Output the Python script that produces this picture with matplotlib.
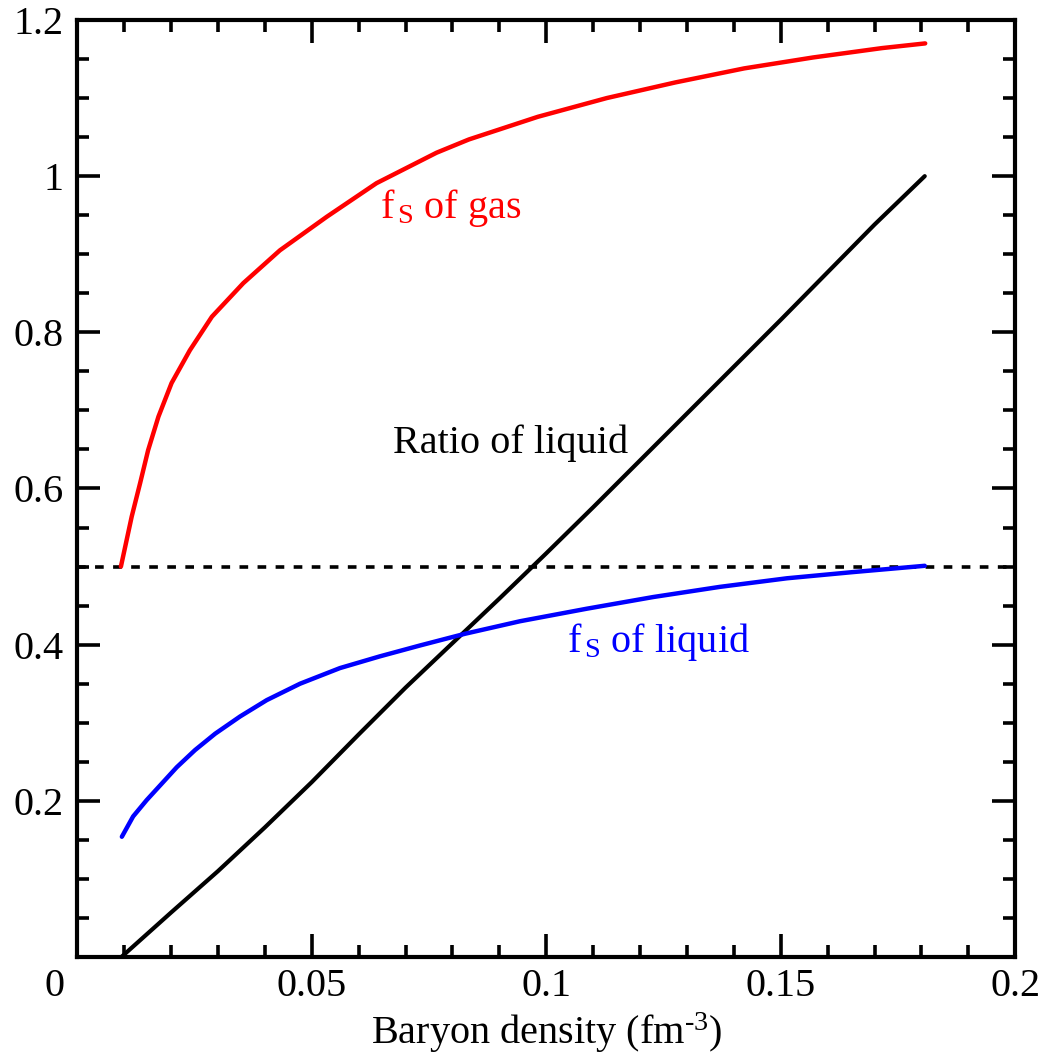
import matplotlib
matplotlib.use('Agg')
import matplotlib.pyplot as plt
import matplotlib.transforms as mtransforms
import numpy as np

plt.rcParams['font.family'] = ['Liberation Serif', 'DejaVu Serif']
plt.rcParams['mathtext.fontset'] = 'custom'
plt.rcParams['mathtext.rm'] = 'Liberation Serif'
plt.rcParams['mathtext.it'] = 'Liberation Serif:italic'

# f_S of gas (red)
gas_x = [0.0093, 0.0116, 0.0134, 0.0151, 0.0173, 0.0201, 0.0240, 0.0287, 0.0354,
         0.0432, 0.0532, 0.0638, 0.0766, 0.0835, 0.0982, 0.1129, 0.1275, 0.1422,
         0.1569, 0.1716, 0.1808]
gas_y = [0.500, 0.564, 0.607, 0.649, 0.692, 0.735, 0.777, 0.820, 0.863,
         0.905, 0.948, 0.991, 1.030, 1.047, 1.076, 1.100, 1.120, 1.138,
         1.152, 1.164, 1.170]

# f_S of liquid (blue)
liq_x = [0.0095, 0.0119, 0.0148, 0.0180, 0.0212, 0.0251, 0.0294, 0.0347, 0.0404,
         0.0475, 0.0560, 0.0645, 0.0731, 0.0827, 0.0944, 0.1086, 0.1228, 0.1370,
         0.1513, 0.1655, 0.1807]
liq_y = [0.154, 0.180, 0.201, 0.222, 0.243, 0.265, 0.286, 0.308, 0.329,
         0.350, 0.370, 0.385, 0.399, 0.414, 0.430, 0.446, 0.461, 0.474,
         0.485, 0.493, 0.501]

# ratio of liquid (black)
ratio_x = [0.0094, 0.02, 0.03, 0.04, 0.05, 0.06, 0.07, 0.08, 0.09, 0.10,
           0.11, 0.12, 0.13, 0.14, 0.15, 0.16, 0.17, 0.1807]
ratio_y = [0.0, 0.057, 0.110, 0.166, 0.224, 0.285, 0.345, 0.402, 0.459, 0.517,
           0.576, 0.636, 0.696, 0.756, 0.816, 0.877, 0.938, 1.0]

half_line = 0.5

xticks = [0, 0.05, 0.1, 0.15, 0.2]
xtick_labels = ['0', '0.05', '0.1', '0.15', '0.2']
yticks = [0, 0.2, 0.4, 0.6, 0.8, 1.0, 1.2]
ytick_labels = ['', '0.2', '0.4', '0.6', '0.8', '1', '1.2']

fs = 29

fig = plt.figure(figsize=(10.46, 10.57), dpi=100)
ax = fig.add_axes([0.0739, 0.0946, 0.8967, 0.8865])

ax.axhline(half_line, color='black', lw=2.6, ls=(0, (2.4, 2.6)))
ax.plot(ratio_x, ratio_y, color='black', lw=3.0, solid_capstyle='round',
        solid_joinstyle='round')
ax.plot(gas_x, gas_y, color='#ff0000', lw=3.2, solid_capstyle='round',
        solid_joinstyle='round')
ax.plot(liq_x, liq_y, color='#0000ff', lw=3.2, solid_capstyle='round',
        solid_joinstyle='round')

ax.text(0.0645, 0.946, r'f$_{\,\mathrm{S}}$ of gas', color='#ff0000', fontsize=fs,
        va='baseline', ha='left')
ax.text(0.0673, 0.645, 'Ratio of liquid', color='black', fontsize=fs,
        va='baseline', ha='left')
ax.text(0.1044, 0.390, r'f$_{\,\mathrm{S}}$ of liquid', color='#0000ff', fontsize=fs,
        va='baseline', ha='left')

ax.set_xlim(0, 0.2)
ax.set_ylim(0, 1.2)
ax.set_xticks(xticks)
ax.set_xticklabels(xtick_labels)
ax.set_yticks(yticks)
ax.set_yticklabels(ytick_labels)
ax.set_xticks(np.arange(0, 0.2001, 0.01), minor=True)
ax.set_yticks(np.arange(0, 1.2001, 0.05), minor=True)

ax.tick_params(which='both', direction='in', top=True, right=True, width=2.6,
               labelsize=fs, colors='black')
ax.tick_params(which='major', length=16.5)
ax.tick_params(which='minor', length=8.6)
ax.tick_params(axis='x', which='major', pad=8)
ax.tick_params(axis='y', which='major', pad=10)

for sp in ax.spines.values():
    sp.set_linewidth(3.0)

ax.set_xlabel(r'Baryon density (fm$^{\text{-3}}$)', fontsize=fs, labelpad=4)

# the "0" on the x axis sits left of the corner
lab0 = ax.xaxis.get_major_ticks()[0].label1
lab0.set_transform(lab0.get_transform() +
                   mtransforms.ScaledTranslation(-0.23, 0, fig.dpi_scale_trans))

fig.savefig('out.png', dpi=100)
